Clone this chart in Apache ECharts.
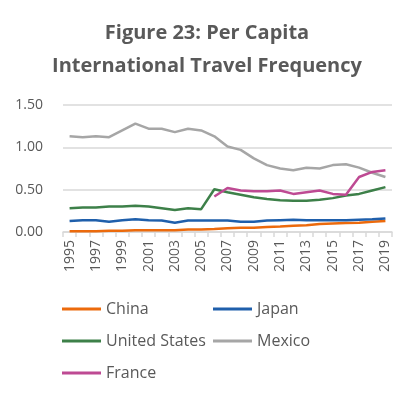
<!DOCTYPE html>
<html><head><meta charset="utf-8">
<script src="https://cdn.jsdelivr.net/npm/echarts@6/dist/echarts.min.js"></script>
<style>html,body{margin:0;padding:0;background:#fff}#c{width:414px;height:398px}</style>
</head><body><div id="c"></div>
<script>
const years = ['1995','1996','1997','1998','1999','2000','2001','2002','2003','2004','2005','2006','2007','2008','2009','2010','2011','2012','2013','2014','2015','2016','2017','2018','2019'];
const china = [0.01,0.01,0.01,0.015,0.015,0.02,0.02,0.02,0.02,0.03,0.03,0.035,0.045,0.05,0.05,0.06,0.065,0.075,0.08,0.095,0.10,0.105,0.11,0.12,0.13];
const japan = [0.13,0.14,0.14,0.12,0.14,0.15,0.14,0.135,0.11,0.135,0.135,0.135,0.135,0.12,0.12,0.135,0.14,0.145,0.14,0.14,0.14,0.14,0.145,0.15,0.16];
const us = [0.28,0.29,0.29,0.30,0.30,0.31,0.30,0.28,0.26,0.28,0.27,0.505,0.47,0.44,0.41,0.39,0.375,0.37,0.37,0.38,0.40,0.43,0.45,0.49,0.53];
const mexico = [1.13,1.12,1.13,1.12,1.20,1.28,1.22,1.22,1.18,1.22,1.20,1.13,1.01,0.97,0.87,0.79,0.75,0.73,0.76,0.75,0.79,0.80,0.76,0.70,0.65];
const france = [null,null,null,null,null,null,null,null,null,null,null,0.42,0.52,0.49,0.48,0.48,0.49,0.45,0.47,0.49,0.45,0.44,0.65,0.71,0.73];
const yTicks = [0, 0.5, 1.0, 1.5];

const names = ['China','Japan','United States','Mexico','France'];
const colors = ['#EC6A0C','#1F5FAB','#3D8049','#A6A6A6','#BE4A93'];
const datas = [china, japan, us, mexico, france];
const legendPos = [[62,301],[213,301],[62,333],[213,333],[62,365]];

const chart = echarts.init(document.getElementById('c'), null, {renderer:'canvas'});
chart.setOption({
  animation: false,
  title: {
    text: 'Figure 23: Per Capita\nInternational Travel Frequency',
    left: 'center', top: 12,
    textStyle: {fontFamily: 'Open Sans', fontWeight: 'bold', fontSize: 20, color: '#595959', lineHeight: 33}
  },
  legend: names.map((n,i) => ({
    data: [n], left: legendPos[i][0], top: legendPos[i][1], padding: 0,
    icon: 'rect', itemWidth: 39, itemHeight: 3, itemGap: 4,
    textStyle: {fontFamily: 'Open Sans', fontSize: 16, color: '#595959'}
  })),
  grid: {left: 63, right: 22, top: 105, bottom: 166, containLabel: false},
  xAxis: {
    type: 'category', data: years, boundaryGap: true,
    axisLine: {lineStyle: {color: '#d9d9d9', width: 1.5}},
    axisTick: {show: true, interval: 0, length: 5, lineStyle: {color: '#d9d9d9', width: 1.5}},
    axisLabel: {interval: 1, rotate: 90, fontFamily: 'Open Sans', fontSize: 14, color: '#595959', margin: 8}
  },
  yAxis: {
    type: 'value', min: yTicks[0], max: yTicks[yTicks.length-1], interval: 0.5,
    axisLine: {show: false}, axisTick: {show: false},
    splitLine: {lineStyle: {color: '#d9d9d9', width: 1.5}},
    axisLabel: {formatter: v => v.toFixed(2), fontFamily: 'Open Sans', fontSize: 14, color: '#595959', margin: 20}
  },
  series: names.map((n,i) => ({
    name: n, type: 'line', data: datas[i], showSymbol: false, symbol: 'none',
    lineStyle: {color: colors[i], width: 2.5}, itemStyle: {color: colors[i]},
    connectNulls: false
  }))
});
</script></body></html>
